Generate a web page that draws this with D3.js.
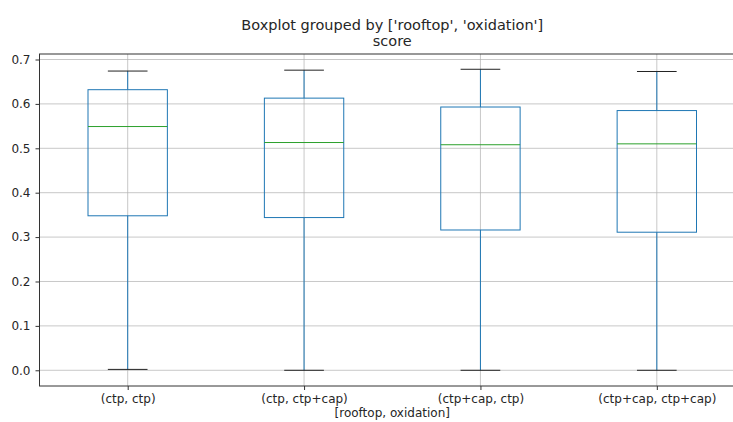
<!DOCTYPE html>
<head>
    <meta charset='utf-8'>
    <title>Boxplot grouped by rooftop, oxidation</title>
    <script src='https://d3js.org/d3.v7.min.js'></script>
    <style>
        html, body {
            margin: 0px;
            padding: 0px;
            background: white;
        }
        svg {
            display: block;
        }
        text {
            font-family: 'DejaVu Sans', sans-serif;
            fill: #262626;
        }
    </style>
</head>
<body>
    <div id='chart'></div>
    <script>
        // values
        var categories = ['(ctp, ctp)', '(ctp, ctp+cap)', '(ctp+cap, ctp)', '(ctp+cap, ctp+cap)'];
        var whiskerLow  = [0.002, 0.0, 0.0, 0.0];
        var q1          = [0.348, 0.344, 0.316, 0.311];
        var median      = [0.549, 0.513, 0.508, 0.510];
        var q3          = [0.632, 0.613, 0.593, 0.585];
        var whiskerHigh = [0.674, 0.676, 0.678, 0.673];
        var yTicks = [0.0, 0.1, 0.2, 0.3, 0.4, 0.5, 0.6, 0.7];

        var width = 733, height = 422;
        var margin = {top: 54, right: -12, bottom: 36, left: 39.5};

        var svg = d3.select('#chart').append('svg')
            .attr('width', width)
            .attr('height', height);

        var x = d3.scaleLinear()
            .domain([0.5, categories.length + 0.5])
            .range([margin.left, width - margin.right]);
        var y = d3.scaleLinear()
            .domain([-0.0354, 0.7124])
            .range([height - margin.bottom, margin.top]);

        var boxW = (x(1) - x(0)) * 0.45;

        // grid
        var grid = svg.append('g');
        grid.selectAll('.hg').data(yTicks).enter().append('line')
            .attr('x1', margin.left).attr('x2', width - margin.right)
            .attr('y1', function(d) { return y(d); })
            .attr('y2', function(d) { return y(d); })
            .attr('stroke', '#b0b0b0').attr('stroke-opacity', 0.7);
        grid.selectAll('.vg').data(categories).enter().append('line')
            .attr('x1', function(d, i) { return x(i + 1); })
            .attr('x2', function(d, i) { return x(i + 1); })
            .attr('y1', margin.top).attr('y2', height - margin.bottom)
            .attr('stroke', '#b0b0b0').attr('stroke-opacity', 0.7);

        // boxes
        var boxes = svg.append('g').selectAll('g').data(categories).enter().append('g');
        boxes.append('line')
            .attr('x1', function(d, i) { return x(i + 1); })
            .attr('x2', function(d, i) { return x(i + 1); })
            .attr('y1', function(d, i) { return y(q3[i]); })
            .attr('y2', function(d, i) { return y(whiskerHigh[i]); })
            .attr('stroke', '#1f77b4');
        boxes.append('line')
            .attr('x1', function(d, i) { return x(i + 1); })
            .attr('x2', function(d, i) { return x(i + 1); })
            .attr('y1', function(d, i) { return y(q1[i]); })
            .attr('y2', function(d, i) { return y(whiskerLow[i]); })
            .attr('stroke', '#1f77b4');
        boxes.append('rect')
            .attr('x', function(d, i) { return x(i + 1) - boxW / 2; })
            .attr('width', boxW)
            .attr('y', function(d, i) { return y(q3[i]); })
            .attr('height', function(d, i) { return y(q1[i]) - y(q3[i]); })
            .attr('fill', 'none')
            .attr('stroke', '#1f77b4');
        boxes.append('line')
            .attr('x1', function(d, i) { return x(i + 1) - boxW / 2; })
            .attr('x2', function(d, i) { return x(i + 1) + boxW / 2; })
            .attr('y1', function(d, i) { return y(median[i]); })
            .attr('y2', function(d, i) { return y(median[i]); })
            .attr('stroke', '#2ca02c');
        [whiskerLow, whiskerHigh].forEach(function(arr) {
            boxes.append('line')
                .attr('x1', function(d, i) { return x(i + 1) - boxW / 4; })
                .attr('x2', function(d, i) { return x(i + 1) + boxW / 4; })
                .attr('y1', function(d, i) { return y(arr[i]); })
                .attr('y2', function(d, i) { return y(arr[i]); })
                .attr('stroke', '#222');
        });

        // axes
        var yAxis = svg.append('g')
            .attr('transform', 'translate(' + margin.left + ',0)')
            .call(d3.axisLeft(y).tickValues(yTicks).tickFormat(d3.format('.1f')).tickSize(4).tickPadding(5));
        var xAxis = svg.append('g')
            .attr('transform', 'translate(0,' + (height - margin.bottom) + ')')
            .call(d3.axisBottom(x).tickValues([1, 2, 3, 4])
                .tickFormat(function(d) { return categories[d - 1]; })
                .tickSize(4).tickPadding(4));
        [yAxis, xAxis].forEach(function(a) {
            a.select('.domain').remove();
            a.selectAll('.tick line').attr('stroke', '#333');
            a.selectAll('text').style('font-size', '12px')
                .style('font-family', "'DejaVu Sans', sans-serif").attr('fill', '#262626');
        });

        // frame
        svg.append('rect')
            .attr('x', margin.left).attr('y', margin.top)
            .attr('width', width - margin.right - margin.left)
            .attr('height', height - margin.bottom - margin.top)
            .attr('fill', 'none').attr('stroke', '#333').attr('stroke-width', 1);

        var cx = (margin.left + width - margin.right) / 2;
        svg.append('text')
            .attr('x', cx).attr('y', 29.5)
            .attr('text-anchor', 'middle')
            .style('font-size', '14.5px')
            .text("Boxplot grouped by ['rooftop', 'oxidation']");
        svg.append('text')
            .attr('x', cx).attr('y', 46)
            .attr('text-anchor', 'middle')
            .style('font-size', '14.5px')
            .text('score');
        svg.append('text')
            .attr('x', cx).attr('y', 417)
            .attr('text-anchor', 'middle')
            .style('font-size', '12px')
            .text('[rooftop, oxidation]');
    </script>
</body>
